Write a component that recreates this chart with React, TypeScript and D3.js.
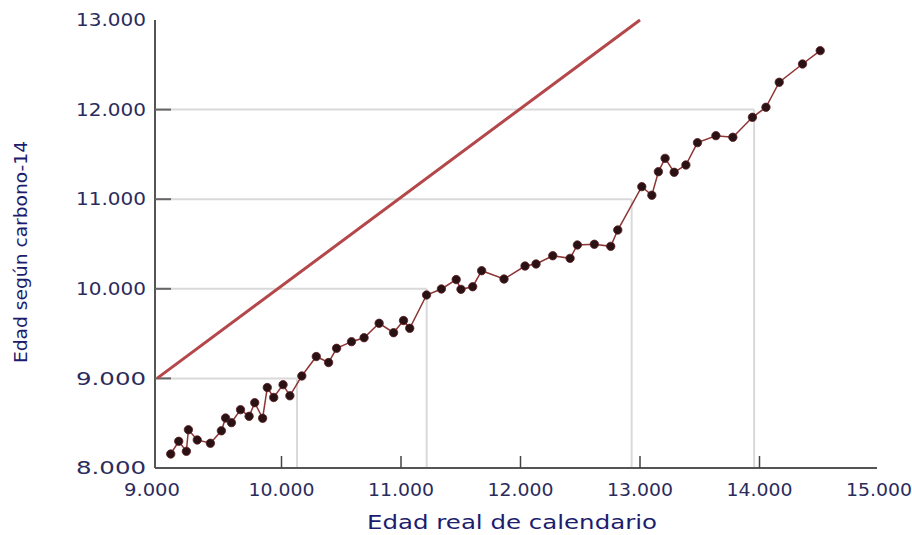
import * as d3 from 'd3';

// calendar age (x) vs radiocarbon age (y)
const calYears = [
  9073, 9140, 9204, 9221, 9295, 9405, 9497, 9532, 9581, 9657,
  9729, 9776, 9842, 9881, 9935, 10013, 10070, 10170, 10291, 10394,
  10461, 10586, 10691, 10817, 10938, 11021, 11073, 11214, 11338, 11462,
  11502, 11600, 11675, 11862, 12038, 12130, 12270, 12415, 12476, 12618,
  12755, 12814, 13015, 13099, 13154, 13210, 13286, 13384, 13481, 13635,
  13777, 13941, 14054, 14165, 14360, 14508,
];
const c14Years = [
  8156, 8298, 8186, 8427, 8313, 8276, 8415, 8558, 8506, 8651,
  8577, 8729, 8555, 8898, 8787, 8930, 8806, 9027, 9244, 9177,
  9336, 9410, 9454, 9615, 9510, 9646, 9559, 9931, 9998, 10103,
  9994, 10023, 10202, 10109, 10254, 10277, 10369, 10340, 10489, 10497,
  10474, 10656, 11140, 11044, 11307, 11456, 11300, 11382, 11631, 11709,
  11691, 11914, 12026, 12305, 12509, 12658,
];

// 1:1 line (where carbon age would equal real age)
const identity = [9000, 13000];

// reading guides: c14 age -> calendar age
const guideC14 = [9000, 10000, 11000, 12000];
const guideCal = [10130, 11215, 12930, 13955];

const xTicks = [9000, 10000, 11000, 12000, 13000, 14000, 15000];
const yTicks = [8000, 9000, 10000, 11000, 12000, 13000];

const fmt = (v: number) => d3.format(',')(v).replace(',', '.');

export default function App() {
  const W = 912, H = 535;
  const axisX = 155, axisEnd = 877;
  const x = d3.scaleLinear().domain([9000, 15000]).range([162, 879]);
  const y = d3.scaleLinear().domain([8000, 13000]).range([468, 20]);

  const pts = calYears.map((c, i) => [c, c14Years[i]] as [number, number]);
  const line = d3.line<[number, number]>().x((d) => x(d[0])).y((d) => y(d[1]));

  const tickFont = "'DejaVu Sans', Verdana, sans-serif";
  const navy = '#2b2b5c';
  const grid = '#d9d9d9';

  return (
    <svg width={W} height={H} style={{ position: 'absolute', left: 0, top: 0, background: '#fff' }}>
      {/* guide lines */}
      {guideC14.map((c, i) => (
        <g key={c}>
          <line x1={axisX} x2={x(guideCal[i])} y1={y(c)} y2={y(c)} stroke={grid} strokeWidth={2} />
          <line x1={x(guideCal[i])} x2={x(guideCal[i])} y1={y(c)} y2={y(8000)} stroke={grid} strokeWidth={2} />
        </g>
      ))}

      {/* axes */}
      <line x1={axisX} x2={axisX} y1={y(13000)} y2={y(8000)} stroke="#555" strokeWidth={2} />
      <line x1={axisX} x2={axisEnd} y1={y(8000)} y2={y(8000)} stroke="#555" strokeWidth={2} />
      {yTicks.filter((t) => t > 8000 && t < 13000).map((t) => (
        <line key={t} x1={axisX} x2={axisX + 16} y1={y(t)} y2={y(t)} stroke="#666" strokeWidth={2} />
      ))}
      {xTicks.filter((t) => t > 9000 && t < 15000).map((t) => (
        <line key={t} x1={x(t)} x2={x(t)} y1={y(8000)} y2={y(8000) - 12} stroke="#444" strokeWidth={1.5} />
      ))}

      {/* tick labels */}
      {yTicks.map((t) => (
        <text key={t} x={146} y={y(t)} dy="0.36em" textAnchor="end" fontFamily={tickFont}
          fontSize={17} fill={navy} textLength={70} lengthAdjust="spacingAndGlyphs">{fmt(t)}</text>
      ))}
      {xTicks.map((t) => (
        <text key={t} x={t === 9000 ? x(t) - 10 : x(t)} y={496} textAnchor="middle" fontFamily={tickFont}
          fontSize={17} fill={navy} textLength={t >= 10000 ? 66 : 56} lengthAdjust="spacingAndGlyphs">{fmt(t)}</text>
      ))}

      {/* identity line */}
      <line x1={x(identity[0]) - 5} y1={y(identity[0])} x2={x(identity[1])} y2={y(identity[1])}
        stroke="#b4474a" strokeWidth={3} />

      {/* calibration data */}
      <path d={line(pts) ?? ''} fill="none" stroke="#8e3434" strokeWidth={1.5} />
      {pts.map((d, i) => (
        <circle key={i} cx={x(d[0])} cy={y(d[1])} r={4.2} fill="#2a1214" stroke="#5a1e22" strokeWidth={0.8} />
      ))}

      {/* axis titles */}
      <text x={512} y={529} textAnchor="middle" fontFamily={tickFont} fontSize={19} fill="#1c1c6e"
        textLength={290} lengthAdjust="spacingAndGlyphs">Edad real de calendario</text>
      <text transform={`translate(27,252) rotate(-90)`} textAnchor="middle" fontFamily={tickFont} fontSize={18}
        fill="#1c1c6e" textLength={222} lengthAdjust="spacingAndGlyphs">Edad según carbono-14</text>
    </svg>
  );
}
